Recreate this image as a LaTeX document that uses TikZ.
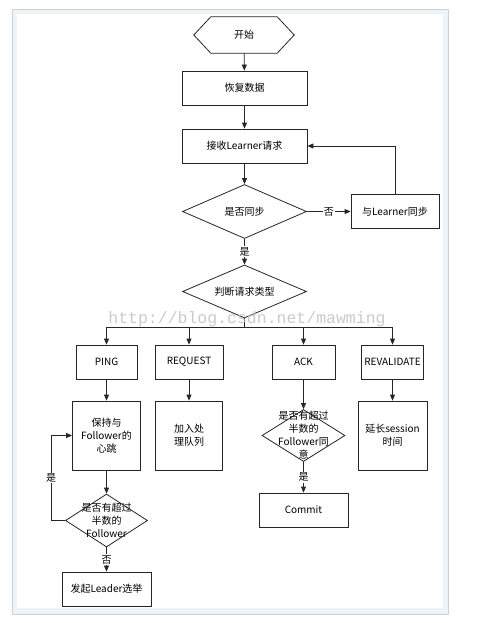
\documentclass[tikz,border=0pt]{standalone}
\usepackage{fontspec}
\setmainfont{Noto Sans CJK SC}
\setmonofont{Liberation Mono}
\usetikzlibrary{shapes.geometric,arrows.meta}
\definecolor{framegray}{RGB}{208,208,208}
\definecolor{frameband}{RGB}{238,243,248}

\begin{document}
\begin{tikzpicture}[x=1pt, y=-1pt, font=\fontsize{10}{13}\selectfont,
    box/.style={draw=black!85, line width=.8pt, minimum height=34pt, inner sep=1pt, align=center},
    dia/.style={diamond, draw=black!85, line width=.8pt, inner sep=0pt},
    arr/.style={draw=black!85, line width=.8pt, -{Triangle[length=6pt,width=5pt]}},
    lab/.style={fill=white, inner sep=1pt}]
      \useasboundingbox (0,0) rectangle (476,623);
      %%% frame round the picture
      \fill[color=framegray] (12,9) rectangle (449,615);
      \fill[color=frameband] (13,10) rectangle (448,614);
      \fill[color=white]     (17,14) rectangle (443,608);

      %%% main column
      \node[minimum width=100pt, minimum height=36pt] (start) at (244,35) {开始};
      \draw[color=black!85, line width=.8pt] (start.west) -- ([xshift=17pt]start.north west) -- ([xshift=-17pt]start.north east)
            -- (start.east) -- ([xshift=-17pt]start.south east) -- ([xshift=17pt]start.south west) -- cycle; %%% hexagon
      \node[box, minimum width=125pt] (recover) at (244.5,88)  {恢复数据};
      \node[box, minimum width=125pt] (recv)    at (244.5,146) {接收Learner请求};
      \node[dia, minimum width=124pt, minimum height=54pt] (sync) at (244.5,211.5) {};
      \node at (sync) {是否同步};
      \node[box, minimum width=88pt] (lsync) at (395,211.5) {与Learner同步};
      \node[dia, minimum width=124pt, minimum height=53pt] (judge) at (244.5,291.5) {};
      \node at (judge) {判断请求类型};

      %%% request types
      \node[box, minimum width=61pt] (ping)    at (106.5,362) {PING};
      \node[box, minimum width=68pt] (request) at (189,362)   {REQUEST};
      \node[box, minimum width=63pt] (ack)     at (303.5,362) {ACK};
      \node[box, minimum width=62pt] (reval)   at (392.5,362) {REVALIDATE};

      \node[box, minimum width=68pt, minimum height=69pt] (heart)  at (106.5,435.5) {保持与\\Follower的\\心跳};
      \node[box, minimum width=67pt, minimum height=69pt] (queue)  at (189,435.5)   {加入处\\理队列};
      \node[dia, minimum width=83pt, minimum height=52pt] (ackq)   at (303.5,435.5) {};
      \node[align=center] at (ackq) {是否有超过\\半数的\\Follower同\\意};
      \node[box, minimum width=69pt, minimum height=69pt] (extend) at (392.5,435.5) {延长session\\时间};

      \node[dia, minimum width=82pt, minimum height=53pt] (pingq) at (106.5,520.5) {};
      \node[align=center] at (pingq) {是否有超过\\半数的\\Follower};
      \node[box, minimum width=89pt] (elect)  at (106.5,589) {发起Leader选举};
      \node[box, minimum width=89pt] (commit) at (303.5,510) {Commit};

      %%% connectors
      \draw[arr] (start) -- (recover);
      \draw[arr] (recover) -- (recv);
      \draw[arr] (recv) -- (sync);
      \draw[arr] (sync) -- node[lab]{否} (lsync);
      \draw[arr] (lsync.north) |- (recv.east);
      \draw[arr] (sync) -- node[lab]{是} (judge);
      \draw[color=black!85, line width=.8pt] (judge.south) -- ++(0,9) coordinate (bus);
      \foreach \n in {ping,request,ack,reval}
        \draw[arr] (bus) -| (\n.north);
      \draw[arr] (ping) -- (heart);
      \draw[arr] (request) -- (queue);
      \draw[arr] (ack) -- (ackq);
      \draw[arr] (reval) -- (extend);
      \draw[arr] (heart) -- (pingq);
      \draw[arr] (pingq) -- node[lab]{否} (elect);
      \draw[arr] (pingq.west) -- ++(-14,0) |- node[lab, pos=.25]{是} (heart.west);
      \draw[arr] (ackq) -- node[lab]{是} (commit);

      %%% watermark
      \node[text=black!25, opacity=.8, font=\ttfamily\fontsize{16.5}{16}\selectfont] (mark) at (247,319) {http://blog.csdn.net/mawming};
\end{tikzpicture}
\end{document}
